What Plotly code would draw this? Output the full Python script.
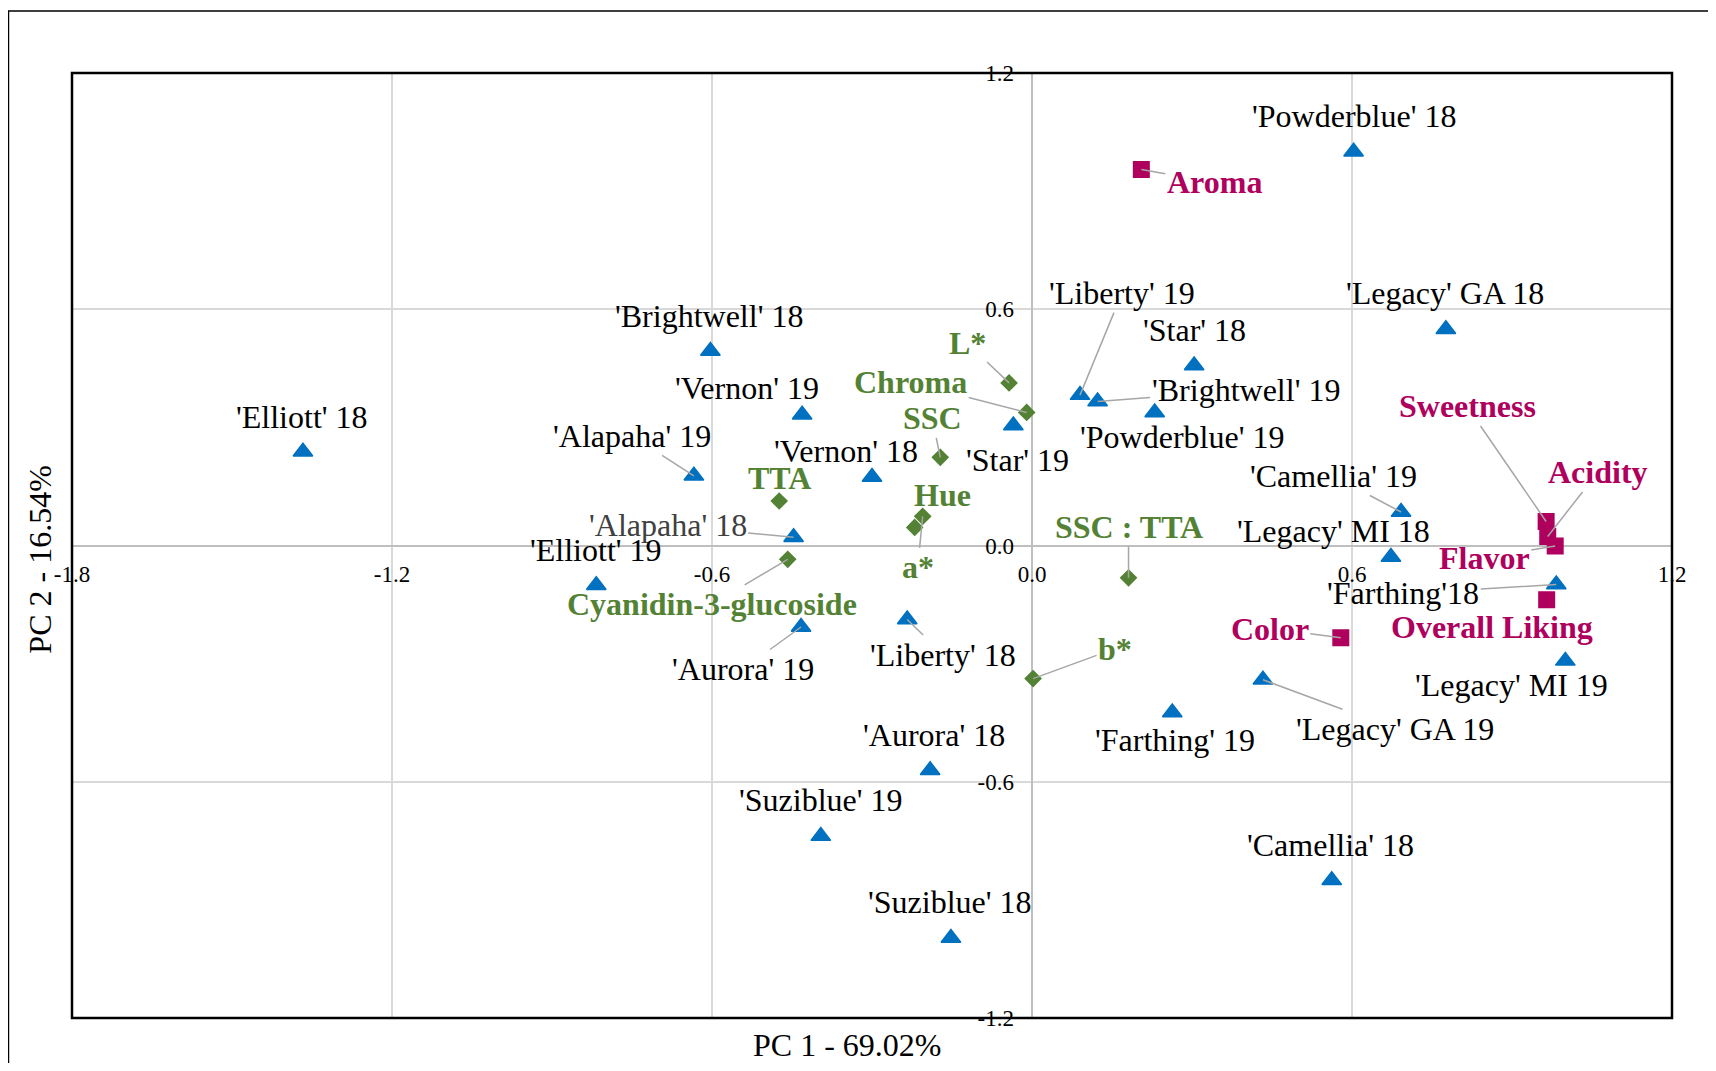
import plotly.graph_objects as go

# ---------------- data ----------------
obs_names = ["'Powderblue' 18", "'Legacy' GA 18", "'Star' 18", "'Liberty' 19",
             "'Brightwell' 19", "'Powderblue' 19", "'Star' 19", "'Brightwell' 18",
             "'Vernon' 19", "'Elliott' 18", "'Alapaha' 19", "'Vernon' 18",
             "'Alapaha' 18", "'Elliott' 19", "'Aurora' 19", "'Liberty' 18",
             "'Aurora' 18", "'Suziblue' 19", "'Suziblue' 18", "'Camellia' 18",
             "'Farthing' 19", "'Legacy' GA 19", "'Legacy' MI 19", "'Farthing'18",
             "'Legacy' MI 18", "'Camellia' 19"]
obs_pc1 = [0.603, 0.776, 0.304, 0.090, 0.123, 0.230, -0.035, -0.603,
           -0.431, -1.367, -0.634, -0.300, -0.447, -0.817, -0.433, -0.234,
           -0.191, -0.396, -0.152, 0.562, 0.263, 0.433, 1.000, 0.983,
           0.673, 0.692]
obs_pc2 = [1.000, 0.549, 0.457, 0.382, 0.366, 0.338, 0.305, 0.494,
           0.332, 0.238, 0.177, 0.174, 0.021, -0.101, -0.207, -0.188,
           -0.571, -0.738, -0.997, -0.850, -0.424, -0.341, -0.293, -0.099,
           -0.029, 0.085]

phys_names = ["L*", "Chroma", "SSC", "TTA", "a*", "Hue",
              "Cyanidin-3-glucoside", "SSC : TTA", "b*"]
phys_pc1 = [-0.043, -0.010, -0.172, -0.474, -0.205, -0.220, -0.458, 0.181, 0.002]
phys_pc2 = [0.413, 0.338, 0.224, 0.113, 0.074, 0.046, -0.035, -0.082, -0.338]

sens_names = ["Aroma", "Sweetness", "Acidity", "Flavor", "Overall Liking", "Color"]
sens_pc1 = [0.205, 0.964, 0.967, 0.981, 0.965, 0.579]
sens_pc2 = [0.955, 0.061, 0.023, -0.001, -0.138, -0.234]

x_ticks = [-1.8, -1.2, -0.6, 0.0, 0.6, 1.2]
y_ticks = [-1.2, -0.6, 0.0, 0.6, 1.2]
x_title = "PC 1 - 69.02%"
y_title = "PC 2 - 16.54%"

# ---------------- styles / label placement (pixels) ----------------
FONT = "Liberation Serif"
BLUE = "#0070C0"
GREEN = "#548235"
MAGENTA = "#B0005E"
LEADER = "#A6A6A6"

# label offset (dx, dy) in px from the point, leader flag
obs_lbl = {
    "'Powderblue' 18": (0, -36, False), "'Legacy' GA 18": (-1, -36, False),
    "'Star' 18": (0, -36, False), "'Liberty' 19": (42, -102, True),
    "'Brightwell' 19": (148, -11, True), "'Powderblue' 19": (27, 25, False),
    "'Star' 19": (4, 35, False), "'Brightwell' 18": (-1, -35, False),
    "'Vernon' 19": (-55, -27, False), "'Elliott' 18": (-1, -35, False),
    "'Alapaha' 19": (-62, -40, True), "'Vernon' 18": (-26, -26, False),
    "'Alapaha' 18": (-126, -12, True), "'Elliott' 19": (0, -35, False),
    "'Aurora' 19": (-58, 42, True), "'Liberty' 18": (36, 35, True),
    "'Aurora' 18": (4, -35, False), "'Suziblue' 19": (0, -36, False),
    "'Suziblue' 18": (-1, -36, False), "'Camellia' 18": (-1, -35, False),
    "'Farthing' 19": (3, 28, False), "'Legacy' GA 19": (132, 49, True),
    "'Legacy' MI 19": (-54, 24, False), "'Farthing'18": (-153, 9, True),
    "'Legacy' MI 18": (-57, -26, False), "'Camellia' 19": (-68, -36, True),
}
phys_lbl = {
    "L*": (-42, -40, True), "Chroma": (-116, -30, True), "SSC": (-8, -39, True),
    "TTA": (0, -23, False), "a*": (-5, 51, True), "Hue": (28, -32, False),
    "Cyanidin-3-glucoside": (-76, 45, True), "SSC : TTA": (0, -51, True),
    "b*": (82, -30, True),
}
sens_lbl = {
    "Aroma": (73, 13, True), "Sweetness": (-79, -115, True),
    "Acidity": (50, -64, True), "Flavor": (-71, 12, True),
    "Overall Liking": (-55, 27, False), "Color": (-71, -9, True),
}

fig = go.Figure()

fig.add_trace(go.Scatter(
    x=obs_pc1, y=obs_pc2, mode="markers", name="Observations",
    marker=dict(symbol="triangle-up", size=17, color=BLUE,
                line=dict(color=BLUE, width=1.5)),
    text=obs_names, hoverinfo="text"))
fig.add_trace(go.Scatter(
    x=phys_pc1, y=phys_pc2, mode="markers", name="Physicochemical",
    marker=dict(symbol="diamond", size=12, color=GREEN,
                line=dict(color=GREEN, width=1.5)),
    text=phys_names, hoverinfo="text"))
fig.add_trace(go.Scatter(
    x=sens_pc1, y=sens_pc2, mode="markers", name="Sensory",
    marker=dict(symbol="square", size=15, color=MAGENTA,
                line=dict(color=MAGENTA, width=2)),
    text=sens_names, hoverinfo="text"))

annotations = []


def add_labels(names, xs, ys, placement, color, bold):
    for n, x, y in zip(names, xs, ys):
        dx, dy, leader = placement[n]
        txt = "<b>%s</b>" % n if bold else n
        c = color
        if n == "'Alapaha' 18":
            c = "#404040"
        f = dict(family=FONT, size=32, color=c)
        if leader:
            annotations.append(dict(
                x=x, y=y, xref="x", yref="y", text=txt, font=f,
                showarrow=True, arrowhead=0, arrowwidth=1.5,
                arrowcolor=LEADER, ax=dx, ay=dy, standoff=0,
                startstandoff=0))
        else:
            annotations.append(dict(
                x=x, y=y, xref="x", yref="y", text=txt, font=f,
                showarrow=False, xshift=dx, yshift=-dy,
                xanchor="center", yanchor="middle"))


add_labels(obs_names, obs_pc1, obs_pc2, obs_lbl, "black", False)
add_labels(phys_names, phys_pc1, phys_pc2, phys_lbl, GREEN, True)
add_labels(sens_names, sens_pc1, sens_pc2, sens_lbl, MAGENTA, True)

# axis titles
annotations.append(dict(x=0.4843, y=-0.029, xref="paper", yref="paper",
                        text=x_title, showarrow=False,
                        font=dict(family=FONT, size=32, color="black"),
                        xanchor="center", yanchor="middle"))
annotations.append(dict(x=-0.0202, y=0.4847, xref="paper", yref="paper",
                        text=y_title, showarrow=False, textangle=-90,
                        font=dict(family=FONT, size=32, color="black"),
                        xanchor="center", yanchor="middle"))

tick_font = dict(family=FONT, size=23, color="black")

# the page body has an 8 px margin, so the figure is sized/offset for it
fig.update_layout(
    width=1700, height=1055,
    margin=dict(l=64, r=36, t=65, b=45),
    paper_bgcolor="white", plot_bgcolor="white",
    showlegend=False,
    annotations=annotations,
    font=dict(family=FONT, color="black"),
    xaxis=dict(range=[-1.8, 1.2], tickvals=x_ticks,
               ticktext=["%.1f" % v for v in x_ticks],
               showgrid=True, gridcolor="#D9D9D9", gridwidth=1.5,
               zeroline=True, zerolinecolor="#BFBFBF", zerolinewidth=2,
               showline=False, anchor="free", position=0.5,
               ticks="", ticklabelstandoff=12, tickfont=tick_font),
    yaxis=dict(range=[-1.2, 1.2], tickvals=y_ticks,
               ticktext=["%.1f" % v for v in y_ticks],
               showgrid=True, gridcolor="#D9D9D9", gridwidth=1.5,
               zeroline=True, zerolinecolor="#BFBFBF", zerolinewidth=2,
               showline=False, anchor="free", position=0.6,
               ticks="", ticklabelstandoff=18, tickfont=tick_font),
    shapes=[
        dict(type="rect", xref="paper", yref="paper", x0=0, x1=1, y0=0, y1=1,
             line=dict(color="black", width=2.5), layer="above"),
        dict(type="rect", xref="paper", yref="paper", x0=-0.0397, x1=1.08,
             y0=-0.12, y1=1.0657, line=dict(color="black", width=1.5),
             layer="above"),
    ],
)

fig.write_html("out.html")
